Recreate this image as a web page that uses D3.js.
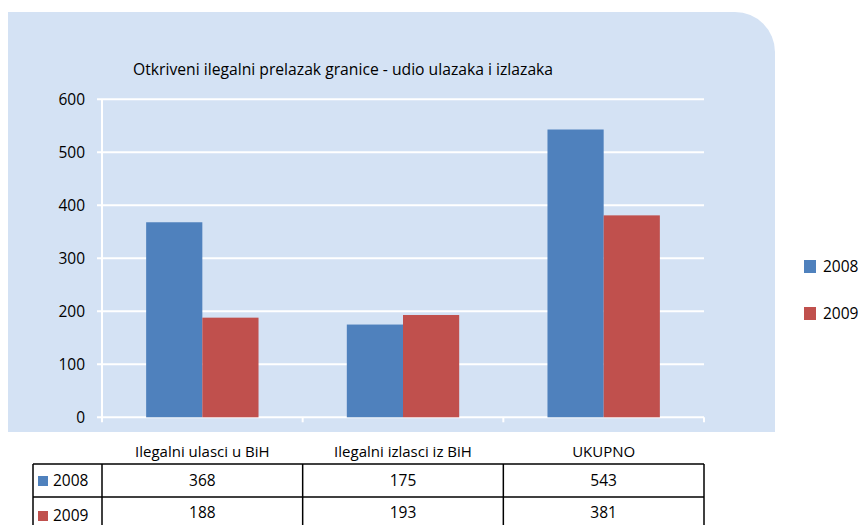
<!DOCTYPE html>
<html><head><meta charset="utf-8">
<script src="https://cdn.jsdelivr.net/npm/d3@7"></script>
<style>body{margin:0;background:#fff}svg{display:block}text{font-family:"Open Sans","Liberation Sans",Arial,sans-serif;fill:#000}</style>
</head><body><svg id="c" width="859" height="525"></svg>
<script>
const title = "Otkriveni ilegalni prelazak granice - udio ulazaka i izlazaka";
const categories = ["Ilegalni ulasci u BiH", "Ilegalni izlasci  iz BiH", "UKUPNO"];
const seriesNames = ["2008", "2009"];
const values2008 = [368, 175, 543];
const values2009 = [188, 193, 381];
const yTicks = [0, 100, 200, 300, 400, 500, 600];
const colors = ["#4F81BD", "#C0504D"];

const svg = d3.select("#c");
const series = [values2008, values2009];

// panel with rounded top-right corner
const px0 = 8, py0 = 12, px1 = 775, py1 = 432, r = 40;
svg.append("path")
  .attr("d", `M${px0},${py0} H${px1 - r} A${r},${r} 0 0 1 ${px1},${py0 + r} V${py1} H${px0} Z`)
  .attr("fill", "#D4E2F4");

const x0 = 102, x1 = 704, yTop = 99.3, yBot = 417.3;
const x = d3.scaleBand().domain(categories).range([x0, x1]).paddingInner(0.44).paddingOuter(0.22);
const xs = d3.scaleBand().domain(seriesNames).range([0, x.bandwidth()]);
const y = d3.scaleLinear().domain([0, 600]).range([yBot, yTop]);

// gridlines
svg.append("g").selectAll("line").data(yTicks).join("line")
  .attr("x1", x0 - 5).attr("x2", x1).attr("y1", d => y(d)).attr("y2", d => y(d))
  .attr("stroke", "#fff").attr("stroke-width", 2);
// y axis line
svg.append("line").attr("x1", x0).attr("x2", x0).attr("y1", yTop).attr("y2", yBot)
  .attr("stroke", "#fff").attr("stroke-width", 2);
// y labels
svg.append("g").selectAll("text").data(yTicks).join("text")
  .attr("x", 85).attr("y", d => y(d)).attr("dy", "0.35em").attr("text-anchor", "end")
  .attr("font-size", 15.5).text(d => d);

// bars
const groups = svg.append("g").selectAll("g").data(categories).join("g")
  .attr("transform", c => `translate(${x(c)},0)`);
groups.selectAll("rect").data((c, i) => series.map((s, j) => ({ k: seriesNames[j], v: s[i], j })))
  .join("rect")
  .attr("x", d => xs(d.k)).attr("width", xs.bandwidth())
  .attr("y", d => y(d.v)).attr("height", d => y(0) - y(d.v))
  .attr("fill", d => colors[d.j]);

// x axis category ticks
const step = (x1 - x0) / categories.length;
const tickXs = d3.range(categories.length + 1).map(i => x0 + i * step);
svg.append("g").selectAll("line").data(tickXs).join("line")
  .attr("x1", d => d).attr("x2", d => d).attr("y1", yBot).attr("y2", yBot + 5)
  .attr("stroke", "#fff").attr("stroke-width", 2);

// title
svg.append("text").attr("x", 133).attr("y", 75).attr("font-size", 15.7).text(title);

// category labels
svg.append("g").selectAll("text").data(categories).join("text")
  .attr("x", c => x(c) + x.bandwidth() / 2).attr("y", 457).attr("text-anchor", "middle")
  .attr("font-size", 15).text(c => c);

// legend
const lg = svg.append("g").selectAll("g").data(seriesNames).join("g")
  .attr("transform", (d, i) => `translate(804,${260 + i * 47})`);
lg.append("rect").attr("width", 12).attr("height", 13).attr("fill", (d, i) => colors[i]);
lg.append("text").attr("x", 19).attr("y", 7).attr("dy", "0.35em").attr("font-size", 15.5).text(d => d);

// data table
const tl = 33, rowTop = 464, rowH = 33;
const tg = svg.append("g");
seriesNames.forEach((s, i) => {
  const yy = rowTop + i * rowH;
  tg.append("rect").attr("x", 38).attr("y", yy + 12 + i * 2).attr("width", 10).attr("height", 10).attr("fill", colors[i]);
  tg.append("text").attr("x", 53).attr("y", yy + 17 + i * 2).attr("dy", "0.35em").attr("font-size", 15.5).text(s);
  categories.forEach((c, k) => {
    tg.append("text").attr("x", x(c) + x.bandwidth() / 2).attr("y", yy + 17 - i * 1).attr("dy", "0.35em")
      .attr("text-anchor", "middle").attr("font-size", 15.5).text(series[i][k]);
  });
});
const lineAttrs = sel => sel.attr("stroke", "#000").attr("stroke-width", 1.5);
[rowTop, rowTop + rowH, rowTop + 2 * rowH].forEach(yy =>
  lineAttrs(tg.append("line").attr("x1", tl).attr("x2", x1).attr("y1", yy).attr("y2", yy)));
[tl, ...tickXs].forEach(xx =>
  lineAttrs(tg.append("line").attr("x1", xx).attr("x2", xx).attr("y1", rowTop).attr("y2", rowTop + 2 * rowH)));
</script></body></html>
